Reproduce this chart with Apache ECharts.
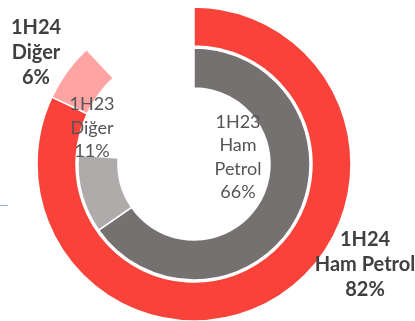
<!DOCTYPE html>
<html><head><meta charset="utf-8">
<script src="https://cdn.jsdelivr.net/npm/echarts@6/dist/echarts.min.js"></script>
<style>html,body{margin:0;padding:0;background:#fff;}#c{width:415px;height:321px;}</style>
</head><body><div id="c"></div>
<script>
const categories = ['Ham Petrol', 'Diğer'];
const outerPeriod = '1H24';
const innerPeriod = '1H23';
const outerValues = [82, 6];
const innerValues = [66, 11];
const outerBlank = 12;
const innerBlank = 24;
const outerColors = ['#F9423A', '#FFA3A3'];
const innerColors = ['#767171', '#AFABAB'];

function mk(vals, cols, blank) {
  const d = vals.map((v, i) => ({ name: categories[i], value: v, itemStyle: { color: cols[i] } }));
  d.push({ name: '', value: blank, itemStyle: { color: 'rgba(0,0,0,0)', borderWidth: 0 }, emphasis: { disabled: true } });
  return d;
}
const font = 'Lato, sans-serif';
const pct = v => v + '%';
function txt(lines, x, y, bold) {
  return { type: 'text', z: 100, style: { text: lines.join('\n'), x: x, y: y,
    textAlign: 'center', textVerticalAlign: 'middle', fontFamily: font,
    fontSize: bold ? 20 : 18, fontWeight: bold ? 'bold' : 'normal',
    fill: bold ? '#404040' : '#555555', lineHeight: bold ? 25 : 23.5 } };
}
const chart = echarts.init(document.getElementById('c'));
chart.setOption({
  animation: false,
  series: [
    { type: 'pie', center: [194, 164], radius: [118, 157], startAngle: 90, clockwise: true, z: 1,
      label: { show: false }, labelLine: { show: false }, silent: true,
      itemStyle: { borderColor: '#fff', borderWidth: 1.5 },
      data: mk(outerValues, outerColors, outerBlank) },
    { type: 'pie', center: [194, 164], radius: [76, 116], startAngle: 90, clockwise: true, z: 1,
      label: { show: false }, labelLine: { show: false }, silent: true,
      itemStyle: { borderColor: '#fff', borderWidth: 1.5 },
      data: mk(innerValues, innerColors, innerBlank) }
  ],
  graphic: { elements: [
    txt([outerPeriod, categories[1], pct(outerValues[1])], 36, 53, true),
    txt([innerPeriod, categories[1], pct(innerValues[1])], 92, 128, false),
    txt([innerPeriod].concat(categories[0].split(' ')).concat([pct(innerValues[0])]), 238, 157, false),
    txt([outerPeriod, categories[0], pct(outerValues[0])], 365, 265, true),
    { type: 'line', z: 100, shape: { x1: 0, y1: 205.5, x2: 8, y2: 205.5 }, style: { stroke: '#9DB3D9', lineWidth: 1 } }
  ] }
});
</script></body></html>
